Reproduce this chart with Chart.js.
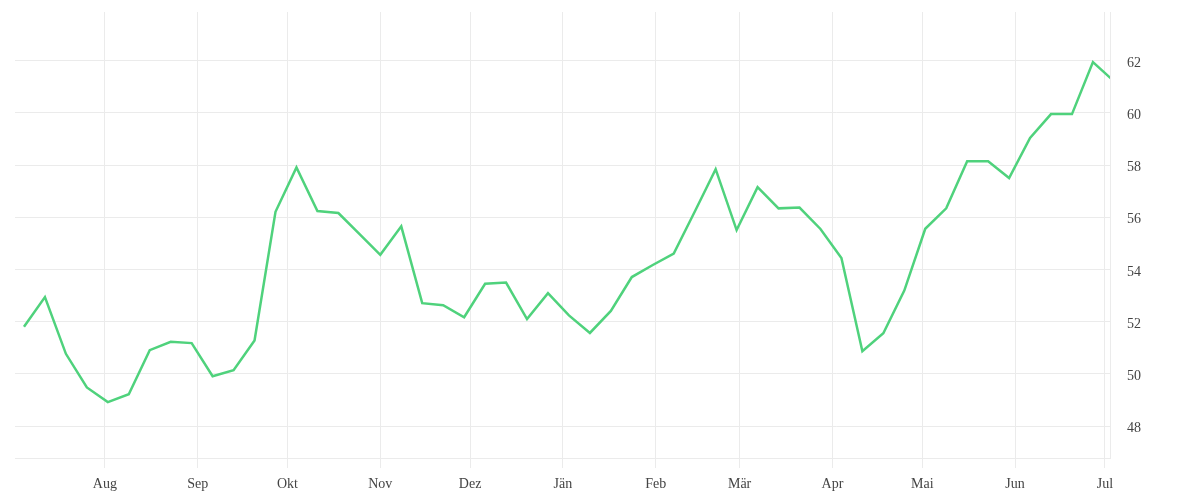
<!DOCTYPE html>
<html>
<head>
<meta charset="utf-8">
<script src="https://cdn.jsdelivr.net/npm/chart.js@4"></script>
<style>
  html, body { margin: 0; padding: 0; background: #fff; }
  #wrap { width: 1200px; height: 500px; position: relative; }
</style>
</head>
<body>
<div id="wrap"><canvas id="chart"></canvas></div>
<script>
// weekly dates and values
const weeks = [
  "2022-07-05","2022-07-12","2022-07-19","2022-07-26",
  "2022-08-02","2022-08-09","2022-08-16","2022-08-23","2022-08-30",
  "2022-09-06","2022-09-13","2022-09-20","2022-09-27",
  "2022-10-04","2022-10-11","2022-10-18","2022-10-25",
  "2022-11-01","2022-11-08","2022-11-15","2022-11-22","2022-11-29",
  "2022-12-06","2022-12-13","2022-12-20","2022-12-27",
  "2023-01-03","2023-01-10","2023-01-17","2023-01-24","2023-01-31",
  "2023-02-07","2023-02-14","2023-02-21","2023-02-28",
  "2023-03-07","2023-03-14","2023-03-21","2023-03-28",
  "2023-04-04","2023-04-11","2023-04-18","2023-04-25",
  "2023-05-02","2023-05-09","2023-05-16","2023-05-23","2023-05-30",
  "2023-06-06","2023-06-13","2023-06-20","2023-06-27",
  "2023-07-04"
];
const values = [
  51.81, 52.94, 50.77, 49.48,
  48.92, 49.22, 50.91, 51.23, 51.18,
  49.91, 50.14, 51.28, 56.21,
  57.91, 56.24, 56.16, 55.36,
  54.56, 55.65, 52.71, 52.63, 52.17,
  53.45, 53.50, 52.10, 53.09,
  52.24, 51.57, 52.41, 53.71, 54.17,
  54.61, 56.21, 57.84, 55.51,
  57.15, 56.34, 56.37, 55.55,
  54.44, 50.87, 51.56, 53.19,
  55.56, 56.34, 58.14, 58.14, 57.50,
  59.04, 59.95, 59.95, 61.94,
  61.21
];
const monthStarts = ["2022-08-01","2022-09-01","2022-10-01","2022-11-01","2022-12-01",
  "2023-01-01","2023-02-01","2023-03-01","2023-04-01","2023-05-01","2023-06-01","2023-07-01"];
const monthLabels = ["Aug","Sep","Okt","Nov","Dez","Jän","Feb","Mär","Apr","Mai","Jun","Jul"];
const yTicks = [48, 50, 52, 54, 56, 58, 60, 62];

const origin = Date.parse("2022-07-01");
const day = s => (Date.parse(s) - origin) / 864e5;

const gridColor = "#ebebeb";
const font = { family: "'Liberation Serif', serif", size: 14 };

new Chart(document.getElementById("chart"), {
  type: "line",
  data: {
    datasets: [{
      data: weeks.map((w, i) => ({ x: day(w), y: values[i] })),
      borderColor: "#4fd27c",
      borderWidth: 2.5,
      pointRadius: 0,
      tension: 0,
      fill: false
    }]
  },
  options: {
    responsive: true,
    maintainAspectRatio: false,
    animation: false,
    layout: { padding: { left: 15, top: 12, right: 0, bottom: 0 } },
    plugins: { legend: { display: false }, tooltip: { enabled: false } },
    scales: {
      x: {
        type: "linear",
        min: 1.0,
        max: 366.7,
        afterBuildTicks: s => { s.ticks = monthStarts.map(m => ({ value: day(m) })); },
        afterFit: s => { s.height = 42; s.paddingLeft = 0; s.paddingRight = 0; },
        grid: { color: gridColor, lineWidth: 1, tickLength: 10, drawTicks: true },
        border: { color: gridColor, width: 1 },
        ticks: {
          autoSkip: false,
          maxRotation: 0,
          padding: 8,
          color: "#444",
          font: font,
          callback: (v, i) => monthLabels[i]
        }
      },
      y: {
        position: "right",
        min: 46.78,
        max: 63.86,
        afterBuildTicks: s => { s.ticks = yTicks.map(v => ({ value: v })); },
        afterFit: s => { s.width = 90; s.paddingTop = 0; s.paddingBottom = 0; },
        grid: { color: gridColor, lineWidth: 1, drawTicks: false },
        border: { color: gridColor, width: 1 },
        ticks: {
          padding: 17,
          labelOffset: 2.5,
          color: "#444",
          font: font,
          callback: v => String(v)
        }
      }
    }
  }
});
</script>
</body>
</html>
